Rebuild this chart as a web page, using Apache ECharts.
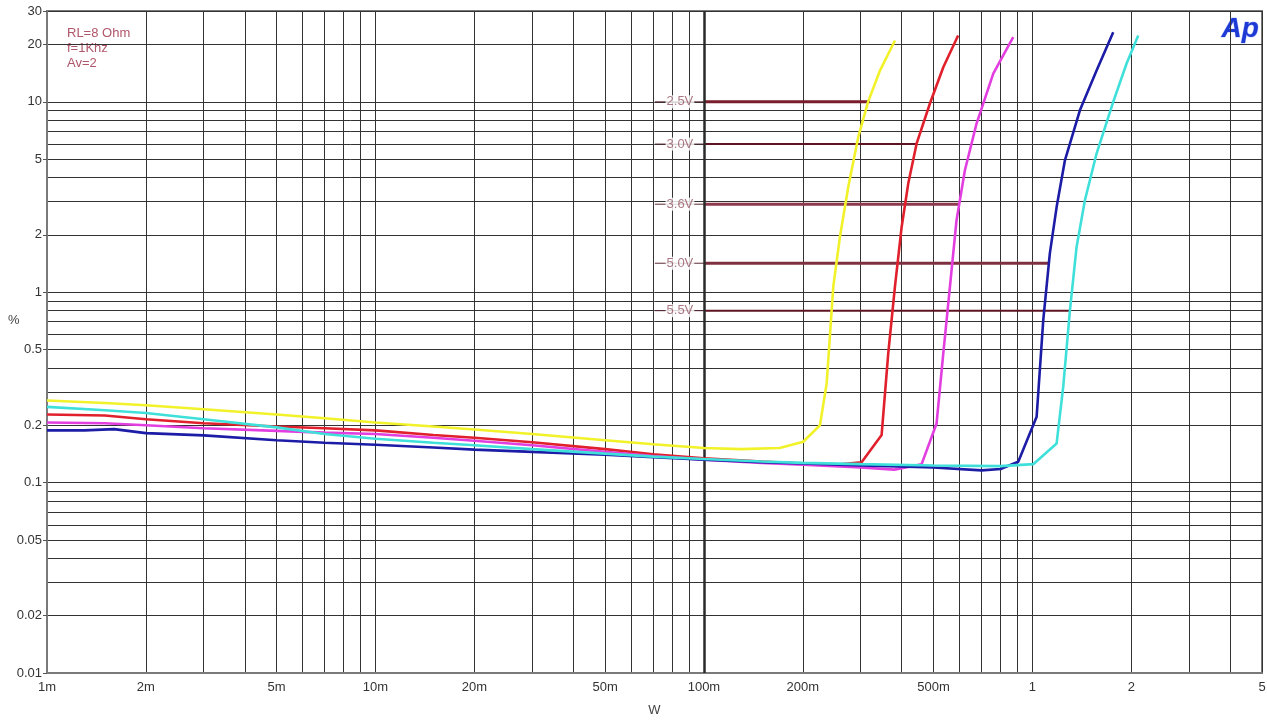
<!DOCTYPE html>
<html><head><meta charset="utf-8">
<script src="https://cdn.jsdelivr.net/npm/echarts@6/dist/echarts.min.js"></script>
<style>html,body{margin:0;padding:0;background:#fff}#c{width:1267px;height:722px}</style>
</head><body><div id="c"></div>
<script>
// Axis ticks / labels
const xTickValues = [0.001,0.002,0.005,0.01,0.02,0.05,0.1,0.2,0.5,1,2,5];
const xTickLabels = ['1m','2m','5m','10m','20m','50m','100m','200m','500m','1','2','5'];
const yTickValues = [0.01,0.02,0.05,0.1,0.2,0.5,1,2,5,10,20,30];
const yTickLabels = ['0.01','0.02','0.05','0.1','0.2','0.5','1','2','5','10','20','30'];
const xGridValues = [0.001,0.002,0.003,0.004,0.005,0.006,0.007,0.008,0.009,
  0.01,0.02,0.03,0.04,0.05,0.06,0.07,0.08,0.09,
  0.1,0.2,0.3,0.4,0.5,0.6,0.7,0.8,0.9,1,2,3,4,5];
const yGridValues = [0.01,0.02,0.03,0.04,0.05,0.06,0.07,0.08,0.09,
  0.1,0.2,0.3,0.4,0.5,0.6,0.7,0.8,0.9,1,2,3,4,5,6,7,8,9,10,20,30];

// THD+N (%) vs output power (W)
const yellowW   = [0.001,0.0015,0.002,0.003,0.005,0.007,0.01,0.015,0.02,0.03,0.05,0.07,0.1,0.13,0.17,0.2006,0.2255,0.2364,0.2476,0.2594,0.275,0.295,0.316,0.3435,0.3815];
const yellowPct = [0.27,0.262,0.255,0.243,0.228,0.218,0.207,0.197,0.19,0.18,0.167,0.159,0.152,0.15,0.152,0.164,0.2,0.332,1.07,1.95,3.57,6.54,10,14.6,21.0];
const redW   = [0.001,0.0015,0.002,0.003,0.005,0.007,0.01,0.015,0.02,0.03,0.05,0.07,0.1,0.15,0.2,0.25,0.302,0.3475,0.364,0.3815,0.3998,0.4188,0.444,0.4875,0.5354,0.594];
const redPct = [0.228,0.225,0.215,0.205,0.197,0.193,0.188,0.178,0.172,0.163,0.15,0.141,0.134,0.129,0.126,0.124,0.128,0.178,0.477,1.07,2.2,3.72,6.03,9.8,15.2,22.3];
const magentaW   = [0.001,0.0015,0.002,0.003,0.005,0.007,0.01,0.015,0.02,0.03,0.05,0.07,0.1,0.15,0.2,0.3,0.38,0.46,0.5108,0.5354,0.561,0.5875,0.623,0.676,0.76,0.874];
const magentaPct = [0.207,0.205,0.2,0.193,0.187,0.183,0.18,0.172,0.166,0.157,0.145,0.138,0.132,0.127,0.124,0.12,0.117,0.125,0.2045,0.477,1.07,2.39,4.37,7.69,14.06,21.9];
const blueW   = [0.001,0.0013,0.0016,0.002,0.003,0.005,0.007,0.01,0.015,0.02,0.03,0.05,0.07,0.1,0.15,0.2,0.3,0.5,0.7,0.8,0.9056,1.03,1.079,1.13,1.185,1.256,1.395,1.568,1.762];
const bluePct = [0.188,0.188,0.191,0.182,0.177,0.167,0.162,0.158,0.153,0.149,0.145,0.14,0.136,0.132,0.128,0.126,0.123,0.12,0.116,0.118,0.1286,0.2215,0.713,1.6,2.8,4.93,9.03,14.6,23.2];
const cyanW   = [0.001,0.0015,0.002,0.003,0.005,0.007,0.01,0.015,0.02,0.03,0.05,0.07,0.1,0.15,0.2,0.3,0.5,0.8,1.006,1.185,1.241,1.301,1.363,1.4447,1.568,1.762,1.935,2.1];
const cyanPct = [0.25,0.24,0.232,0.215,0.195,0.18,0.17,0.162,0.157,0.15,0.142,0.137,0.133,0.129,0.127,0.125,0.123,0.122,0.125,0.1606,0.318,0.805,1.73,3.04,5.35,10,15.9,22.3];

// Supply-voltage reference lines
const refLabels = ['2.5V','3.0V','3.6V','5.0V','5.5V'];
const refPct    = [10, 6, 2.9, 1.42, 0.8];
const refEndW   = [0.32, 0.445, 0.60, 1.12, 1.30];
const refStartW = 0.1;
const refTickW  = [0.0709, 0.1];
const refLabelW = 0.0845;

const curves = [
  {name:'2.5V', w:yellowW,  p:yellowPct,  color:'#f2f22a'},
  {name:'3.0V', w:redW,     p:redPct,     color:'#e0202c'},
  {name:'3.6V', w:magentaW, p:magentaPct, color:'#e23ee0'},
  {name:'5.0V', w:blueW,    p:bluePct,    color:'#1c1ca6'},
  {name:'5.5V', w:cyanW,    p:cyanPct,    color:'#3fe0da'}
];
const refColors = ['#7a1c2c','#5e1422','#8e3a4c','#7e3040','#5e1422'];
const refWidths = [3, 2, 3, 3, 2];

function zip(a,b){return a.map((v,i)=>[v,b[i]]);}
function lookup(vals, labels, v){
  for (let i=0;i<vals.length;i++){ if (Math.abs(Math.log10(vals[i])-Math.log10(v))<1e-6) return labels[i]; }
  return '';
}
const FONT = 'Liberation Sans';

const series = [];
refLabels.forEach((lab,i)=>{
  series.push({type:'line', silent:true, symbol:'none', z:3,
    data:[[refStartW, refPct[i]],[refEndW[i], refPct[i]]],
    lineStyle:{color:refColors[i], width:refWidths[i]}});
  series.push({type:'line', silent:true, symbol:'none', z:3,
    data:[[refTickW[0], refPct[i]],[refTickW[1], refPct[i]]],
    lineStyle:{color:'#5a2a34', width:1}});
  series.push({type:'scatter', silent:true, symbol:'rect', symbolSize:1, z:4,
    itemStyle:{color:'rgba(0,0,0,0)'},
    data:[[refLabelW, refPct[i]]],
    label:{show:true, position:'inside', formatter:lab, color:'#945664', fontSize:13,
      fontFamily:FONT, backgroundColor:'#fff', padding:[0,1]}});
});
curves.forEach(c=>{
  series.push({type:'line', name:c.name, silent:true, symbol:'none', z:5,
    data:zip(c.w,c.p), lineStyle:{color:c.color, width:2.6}});
});
// emphasised 100m grid line
series.push({type:'line', silent:true, symbol:'none', data:[], z:2,
  markLine:{silent:true, symbol:'none', label:{show:false},
    lineStyle:{color:'#2a2a2a', width:2.5, type:'solid'}, data:[{xAxis:0.1}]}});

const chart = echarts.init(document.getElementById('c'));
chart.setOption({
  animation:false,
  backgroundColor:'#fff',
  grid:{left:47, right:5, top:11, bottom:49, show:true, borderColor:'#7a7a7a', borderWidth:2,
    containLabel:false, outerBoundsMode:'none'},
  xAxis:{type:'log', logBase:10, min:0.001, max:5,
    name:'W', nameLocation:'middle', nameGap:31,
    nameTextStyle:{color:'#444', fontSize:13, fontFamily:FONT},
    axisLine:{show:true, lineStyle:{color:'#7a7a7a', width:2}},
    axisTick:{show:false, customValues:xGridValues},
    splitLine:{show:true, lineStyle:{color:'#333', width:1}},
    axisLabel:{customValues:xTickValues, color:'#333', fontSize:13, fontFamily:FONT, margin:8,
      formatter:v=>lookup(xTickValues,xTickLabels,v)}},
  yAxis:[{type:'log', logBase:10, min:0.01, max:30,
    axisLine:{show:true, lineStyle:{color:'#7a7a7a', width:2}},
    axisTick:{show:false, customValues:yGridValues},
    splitLine:{show:true, lineStyle:{color:'#333', width:1}},
    axisLabel:{customValues:yTickValues, color:'#333', fontSize:13, fontFamily:FONT, margin:5,
      formatter:v=>lookup(yTickValues,yTickLabels,v)}},
   {type:'log', logBase:10, min:0.01, max:30, position:'left', offset:0,
    axisLine:{show:false},
    axisTick:{show:true, inside:false, length:4, customValues:yTickValues, lineStyle:{color:'#555', width:1}},
    splitLine:{show:false},
    axisLabel:{show:false}}],
  graphic:[
    {type:'text', left:8, top:314, style:{text:'%', fill:'#444', font:'13px "Liberation Sans"'}},
    {type:'text', left:67, top:26, style:{text:'RL=8 Ohm\nf=1Khz\nAv=2', fill:'#b0566a', font:'13px "Liberation Sans"', lineHeight:15}},
    {type:'text', left:1221, top:15, style:{text:'Ap', fill:'#1d3ad4', stroke:'#c8d0ff', lineWidth:1,
      font:'italic bold 28px "Liberation Sans"'}}
  ],
  series:series
});
</script>
</body></html>
